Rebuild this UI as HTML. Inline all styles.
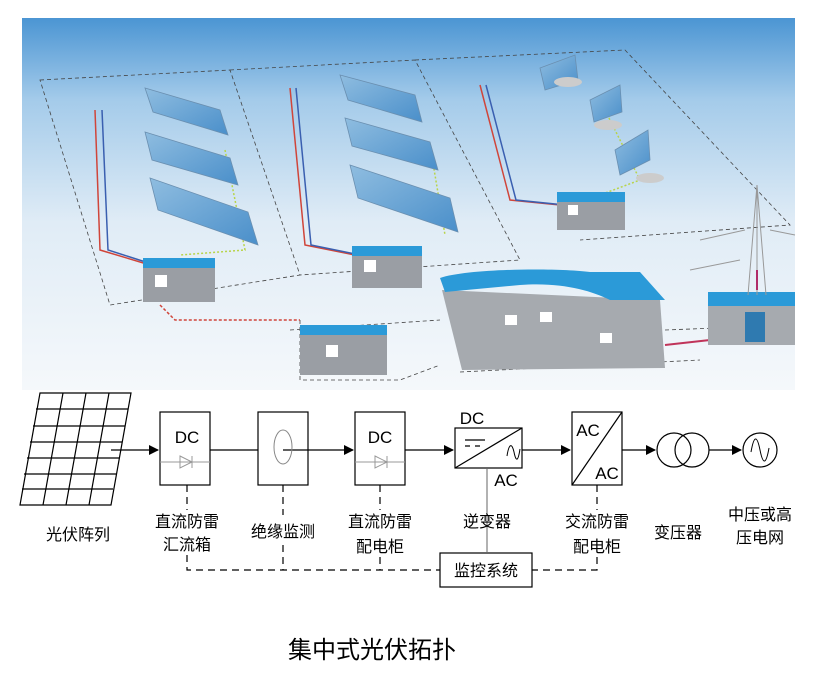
<!DOCTYPE html>
<html><head><meta charset="utf-8"><style>
html,body{margin:0;padding:0;background:#fff;}
svg{display:block;}
text{font-family:"Liberation Sans","Noto Sans CJK SC",sans-serif;}
</style></head><body>
<svg width="817" height="682" viewBox="0 0 817 682" xmlns="http://www.w3.org/2000/svg">
<defs>
<linearGradient id="bg" x1="0" y1="0" x2="0" y2="1">
<stop offset="0" stop-color="#4b95d3"/><stop offset="0.22" stop-color="#a4cbea"/><stop offset="0.55" stop-color="#e0ecf6"/><stop offset="1" stop-color="#f5f8fb"/>
</linearGradient>
<linearGradient id="pan" x1="0" y1="0" x2="1" y2="1"><stop offset="0" stop-color="#8fbde0"/><stop offset="1" stop-color="#4a8fca"/></linearGradient>
<marker id="ar" markerWidth="10" markerHeight="10" refX="9" refY="5" orient="auto" markerUnits="userSpaceOnUse"><path d="M0,0 L10,5 L0,10 z" fill="#000"/></marker>
</defs>
<rect x="22" y="18" width="773" height="372" fill="url(#bg)"/>
<g fill="none" stroke="#444" stroke-width="0.8" stroke-dasharray="4,3">
<path d="M40,80 L230,70 L300,275 L110,305 Z"/>
<path d="M230,70 L415,60 L520,260 L300,275"/>
<path d="M415,60 L625,50 L790,225 L580,240"/>
<path d="M290,330 L440,320 M300,320 L300,380 L400,380 L440,365"/>
<path d="M665,330 L795,325 M460,372 L700,360"/>
</g>
<g fill="none" stroke-width="1.5">
<path d="M95,110 L100,250 L150,265" stroke="#d0453a"/>
<path d="M102,110 L108,250 L155,265" stroke="#3a5fb0"/>
<path d="M290,88 L305,245 L355,255" stroke="#d0453a"/>
<path d="M296,88 L311,245 L360,255" stroke="#3a5fb0"/>
<path d="M480,85 L510,200 L560,205" stroke="#d0453a"/>
<path d="M486,85 L516,200 L565,205" stroke="#3a5fb0"/>
<path d="M160,305 L175,320 L300,320" stroke="#d0453a" stroke-dasharray="3,2"/>
<path d="M665,345 L710,340" stroke="#c0345a" stroke-width="2"/>
<path d="M225,150 L245,250 L180,255 M430,145 L445,235 M600,100 L640,180 L600,195" stroke="#b8d44a" stroke-dasharray="2,2"/>
</g>
<g fill="url(#pan)" stroke="#6a8fb0" stroke-width="0.8">
<polygon points="145,88 220,110 228,135 153,112"/>
<polygon points="145,132 230,158 238,185 152,160"/>
<polygon points="150,178 248,212 258,245 158,210"/>
<polygon points="340,75 415,95 422,122 348,100"/>
<polygon points="345,118 430,142 438,170 352,146"/>
<polygon points="350,165 450,198 458,232 358,198"/>
<polygon points="540,68 575,55 578,80 545,90"/>
<polygon points="590,100 620,85 622,112 594,122"/>
<polygon points="615,150 648,130 650,160 620,175"/>
</g>
<g fill="#ccc"><ellipse cx="568" cy="82" rx="14" ry="5"/><ellipse cx="608" cy="125" rx="14" ry="5"/><ellipse cx="650" cy="178" rx="14" ry="5"/></g>
<g>
<rect x="143" y="262" width="72" height="40" fill="#9a9ea4"/><rect x="143" y="258" width="72" height="10" fill="#2b9ad8"/>
<rect x="352" y="250" width="70" height="38" fill="#9a9ea4"/><rect x="352" y="246" width="70" height="10" fill="#2b9ad8"/>
<rect x="557" y="196" width="68" height="34" fill="#9a9ea4"/><rect x="557" y="192" width="68" height="10" fill="#2b9ad8"/>
<rect x="300" y="330" width="87" height="45" fill="#9a9ea4"/><rect x="300" y="325" width="87" height="10" fill="#2b9ad8"/>
<path d="M442,290 L660,300 L665,368 L462,370 Z" fill="#a6aaaf"/>
<path d="M440,278 C470,268 560,268 590,272 L640,272 L665,300 L610,300 C590,290 560,282 520,285 L445,292 Z" fill="#2b9ad8"/>
<rect x="708" y="300" width="87" height="45" fill="#a6aaaf"/><rect x="708" y="292" width="87" height="14" fill="#2b9ad8"/>
<rect x="745" y="312" width="20" height="30" fill="#2f7ab0"/>
<rect x="155" y="275" width="12" height="12" fill="#fff"/><rect x="364" y="260" width="12" height="12" fill="#fff"/><rect x="568" y="205" width="10" height="10" fill="#fff"/>
<rect x="326" y="345" width="12" height="12" fill="#fff"/><rect x="505" y="315" width="12" height="10" fill="#fff"/><rect x="540" y="312" width="12" height="10" fill="#fff"/><rect x="600" y="333" width="12" height="10" fill="#fff"/>
</g>
<g stroke="#999" stroke-width="1" fill="none">
<path d="M748,295 L757,185 L766,295 M745,230 L700,240 M770,230 L795,235 M740,260 L690,270 M757,185 L757,295"/>
</g>
<path d="M757,290 L757,270" stroke="#b02c6a" stroke-width="2"/>

<g stroke="#000" stroke-width="1.2" fill="none">
<polygon points="40,393 131,393 111,505 20,505"/>
<path d="M36,409 L128,409 M33,426 L125,426 M30,442 L122,442 M27,458 L119,458 M24,474 L116,474 M22,489 L113,489"/>
<path d="M63,393 L43,505 M86,393 L66,505 M109,393 L89,505"/>
<rect x="160" y="412" width="50" height="73"/>
<rect x="258" y="412" width="50" height="73"/>
<rect x="355" y="412" width="50" height="73"/>
<rect x="455" y="428" width="67" height="40"/>
<path d="M455,468 L522,428"/>
<rect x="572" y="412" width="50" height="73"/>
<path d="M572,485 L622,412"/>
<circle cx="674" cy="450" r="17"/><circle cx="692" cy="450" r="17"/>
<circle cx="760" cy="450" r="17"/>
<path d="M751,452 C754,435 757,435 760,450 C763,465 766,465 769,448" stroke-width="1"/>
<path d="M507,456 C509,443 512,443 514,452 C516,462 518,462 520,449" stroke-width="1"/>
<path d="M465,440 L485,440 M465,446 L470,446 M475,446 L480,446"/>
<path d="M111,450 L158,450" marker-end="url(#ar)"/>
<path d="M210,450 L258,450 M283,450 L353,450" marker-end="url(#ar)"/>
<path d="M405,450 L453,450" marker-end="url(#ar)"/>
<path d="M522,450 L570,450" marker-end="url(#ar)"/>
<path d="M622,450 L655,450" marker-end="url(#ar)"/>
<path d="M709,450 L741,450" marker-end="url(#ar)"/>
<rect x="440" y="553" width="92" height="34"/>
</g>
<ellipse cx="283" cy="447" rx="9" ry="17" fill="none" stroke="#888" stroke-width="1"/>
<g stroke="#999" stroke-width="1" fill="none">
<path d="M160,462 L210,462 M355,462 L405,462"/>
<path d="M180,456 L192,462 L180,468 Z M192,456 L192,468 M375,456 L387,462 L375,468 Z M387,456 L387,468"/>
<path d="M487,468 L487,553" stroke="#666"/>
</g>
<g stroke="#000" stroke-width="1.2" fill="none" stroke-dasharray="7,5">
<path d="M187,485 L187,510 M187,555 L187,570 L440,570"/>
<path d="M283,485 L283,515 M283,545 L283,570"/>
<path d="M380,485 L380,510 M380,557 L380,570"/>
<path d="M597,485 L597,510 M597,557 L597,570 L532,570"/>
</g>
<g font-size="17" fill="#000" text-anchor="middle">
<text x="187" y="443">DC</text><text x="380" y="443">DC</text>
<text x="472" y="424">DC</text><text x="506" y="486">AC</text>
<text x="588" y="436">AC</text><text x="607" y="479">AC</text>
</g>
<g font-size="16" fill="#000" text-anchor="middle">
<text x="78" y="540">光伏阵列</text>
<text x="187" y="527">直流防雷</text><text x="187" y="550">汇流箱</text>
<text x="283" y="537">绝缘监测</text>
<text x="380" y="527">直流防雷</text><text x="380" y="552">配电柜</text>
<text x="487" y="527">逆变器</text>
<text x="597" y="527">交流防雷</text><text x="597" y="552">配电柜</text>
<text x="678" y="538">变压器</text>
<text x="760" y="520">中压或高</text><text x="760" y="543">压电网</text>
<text x="486" y="576">监控系统</text>
<text x="372" y="658" font-size="24">集中式光伏拓扑</text>
</g>
</svg>
</body></html>
